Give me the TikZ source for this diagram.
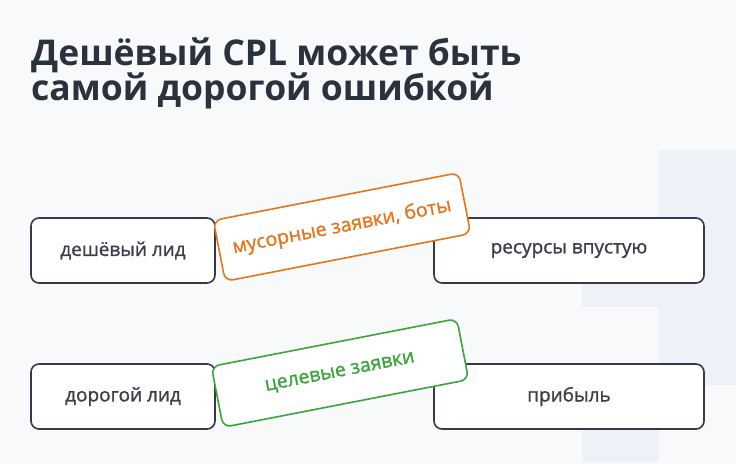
\documentclass[tikz,border=0pt]{standalone}
\usepackage{fontspec}
\setmainfont{Open Sans}
\newfontfamily\labelfont{Open Sans}[FakeBold=1.2]
\usepackage{tikz}
\usetikzlibrary{positioning}

\definecolor{paper}{HTML}{F8F9FB}
\definecolor{panel}{HTML}{EEF2F8}
\definecolor{ink}{HTML}{2B313D}
\definecolor{boxline}{HTML}{353A45}
\definecolor{boxtext}{HTML}{3A3F48}
\definecolor{junkcol}{HTML}{E8751A}
\definecolor{goodcol}{HTML}{3BA53B}

\tikzset{
	leadbox/.style={draw=boxline, line width=1.6pt, rounded corners=8pt, fill=white, text=boxtext, minimum height=65pt, font=\labelfont\fontsize{19}{22}\selectfont},
	tag/.style={draw=#1, text=#1, line width=1.6pt, rounded corners=8pt, fill=white, minimum width=250pt, minimum height=62pt, rotate=11, inner sep=2pt, font=\labelfont\fontsize{19.5}{22}\selectfont},
	headline/.style={anchor=base west, text=ink, inner sep=0pt, font=\fontsize{35.5}{38}\selectfont\bfseries}
}

\begin{document}
\begin{tikzpicture}[x=1pt,y=-1pt]
	
	\fill[paper] (0,0) rectangle (736,464);
	\fill[panel] (659,150) rectangle (736,385);
	\fill[panel] (582,250) rectangle (659,307);
	\fill[panel] (582,400) rectangle (659,462);
	
	\node[headline] (title1) at (31,65) {Дешёвый CPL может быть};
	\node[headline] (title2) at (31,100) {самой дорогой ошибкой};
	
	\node[leadbox, minimum width=184pt] (cheap) at (123,250.5) {дешёвый лид};
	\node[leadbox, minimum width=270pt] (waste) at (569,250.5) {ресурсы впустую};
	\node[leadbox, minimum width=184pt] (costly) at (123,396.5) {дорогой лид};
	\node[leadbox, minimum width=270pt] (profit) at (569,396.5) {прибыль};
	
	\node[tag=junkcol] (junk) at (342,227) {мусорные заявки, боты};
	\node[tag=goodcol] (target) at (340,373) {целевые заявки};
	
\end{tikzpicture}
\end{document}
